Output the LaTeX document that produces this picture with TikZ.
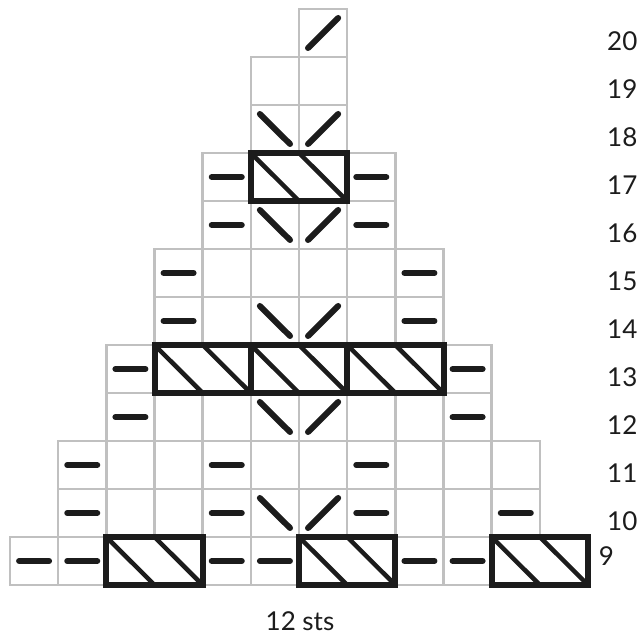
\documentclass[tikz,border=0pt]{standalone}
\usepackage{fontspec}
\setmainfont{Lato}
\definecolor{gridgray}{RGB}{192,192,192}
\definecolor{ink}{RGB}{28,28,28}
\begin{document}
\begin{tikzpicture}[x=1pt,y=-1pt,
  gridcell/.style={draw=gridgray,line width=2.6pt},
  knit/.style={draw=ink,line width=6pt,line cap=round},
  cable/.style={draw=ink,line width=6pt},
  cablediag/.style={draw=ink,line width=4.5pt},
  lbl/.style={font=\fontsize{26}{26}\selectfont,text=ink,inner sep=0pt}]
\fill[white] (0,0) rectangle (641,639);
\useasboundingbox (0,0) rectangle (641,639);
% grid cells
\foreach \r/\a/\b in {20/6/6,19/5/6,18/5/6,17/4/7,16/4/7,15/3/8,14/3/8,13/2/9,12/2/9,11/1/10,10/1/10,9/0/11}{
  \foreach \c in {\a,...,\b}{
    \draw[gridcell] ({10+\c*48.17},{9+(20-\r)*48}) rectangle ++(48.17,48);
  }
}
% cables (two-cell boxes)
\foreach \c/\r in {5/17,3/13,5/13,7/13,2/9,6/9,10/9}{
  \fill[white] ({10+\c*48.17},{9+(20-\r)*48}) rectangle ++(96.34,48);
  \draw[cablediag] ({10+\c*48.17},{9+(20-\r)*48}) -- ++(48.17,48);
  \draw[cablediag] ({10+(\c+1)*48.17},{9+(20-\r)*48}) -- ++(48.17,48);
  \draw[cable] ({10+\c*48.17},{9+(20-\r)*48}) rectangle ++(96.34,48);
}
% purl dashes
\foreach \c/\r in {4/17,7/17,4/16,7/16,3/15,8/15,3/14,8/14,2/13,9/13,2/12,9/12,1/11,4/11,7/11,1/10,4/10,7/10,10/10,0/9,1/9,4/9,5/9,8/9,9/9}{
  \draw[knit] ({10+(\c+0.5)*48.17-15},{33+(20-\r)*48}) -- ++(30,0);
}
% left-leaning decreases
\foreach \c/\r in {5/18,5/16,5/14,5/12,5/10}{
  \draw[knit] ({10+\c*48.17+9},{9+(20-\r)*48+9}) -- ++(30.17,30);
}
% right-leaning decreases
\foreach \c/\r in {6/20,6/18,6/16,6/14,6/12,6/10}{
  \draw[knit] ({10+\c*48.17+9},{9+(20-\r)*48+39}) -- ++(30.17,-30);
}
% row labels
\foreach \r in {10,...,20}{
  \node[lbl,anchor=west] (row\r) at (607,{41+(20-\r)*48}) {\r};
}
\node[lbl] (row9) at (606.5,556) {9};
\node[lbl] (sts) at (300,621) {12 sts};
\end{tikzpicture}
\end{document}
